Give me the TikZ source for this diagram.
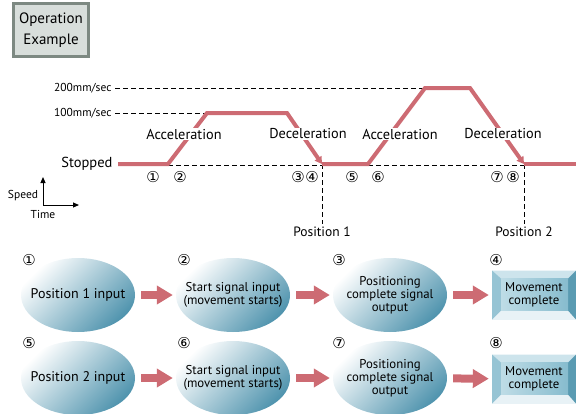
\documentclass[tikz,border=0pt]{standalone}
\usepackage{fontspec}
\setmainfont{PT Sans}
\newfontfamily\circfont{DejaVu Sans}
\usetikzlibrary{arrows.meta,shapes.geometric}

\definecolor{profred}{RGB}{205,107,115}
\definecolor{ovalteal}{RGB}{80,148,174}
\definecolor{titlegray}{RGB}{125,137,130}
\definecolor{titlefill}{RGB}{216,222,219}
\definecolor{bevtop}{RGB}{205,228,236}
\definecolor{bevleft}{RGB}{150,196,212}
\definecolor{bevright}{RGB}{90,155,178}
\definecolor{bevbottom}{RGB}{232,242,246}
\definecolor{faceleft}{RGB}{190,220,230}
\definecolor{faceright}{RGB}{135,188,206}

\tikzset{
  profile/.style={draw=profred, line width=4pt},
  guide/.style={draw=black, line width=0.8pt, dash pattern=on 5pt off 3pt},
  phase/.style={fill=white, inner sep=1pt, font=\fontsize{14.3}{16}\selectfont},
  speedlbl/.style={anchor=east, font=\fontsize{11.5}{13}\selectfont},
  stepno/.style={font=\circfont\fontsize{15}{16}\selectfont},
  ovaltext/.style={align=center, inner sep=0pt, font=\fontsize{12.8}{13}\selectfont},
  oval/.style={ellipse, minimum width=114pt, minimum height=74pt, inner sep=0pt,
    top color=white, bottom color=ovalteal, shading angle=45,
    label={[ovaltext]center:#1}},
  fatarrow/.style={draw=profred, line width=8pt, -{Triangle[length=16pt,width=18pt]},
    shorten <=6pt, shorten >=3pt},
  donebox/.style={rectangle, minimum width=84pt, minimum height=49pt, inner sep=0pt,
    fill=bevbottom, align=center, font=\fontsize{12.8}{13}\selectfont,
    path picture={
      \fill[bevtop] (path picture bounding box.north west) -- (path picture bounding box.north east)
        -- ([xshift=-8pt,yshift=-8pt]path picture bounding box.north east)
        -- ([xshift=9pt,yshift=-8pt]path picture bounding box.north west) -- cycle;
      \fill[bevleft] (path picture bounding box.north west) -- ([xshift=9pt,yshift=-8pt]path picture bounding box.north west)
        -- ([xshift=9pt,yshift=9pt]path picture bounding box.south west) -- (path picture bounding box.south west) -- cycle;
      \fill[bevright] (path picture bounding box.north east) -- ([xshift=-8pt,yshift=-8pt]path picture bounding box.north east)
        -- ([xshift=-8pt,yshift=9pt]path picture bounding box.south east) -- (path picture bounding box.south east) -- cycle;
      \shade[left color=faceleft, right color=faceright]
        ([xshift=9pt,yshift=-8pt]path picture bounding box.north west)
        rectangle ([xshift=-8pt,yshift=9pt]path picture bounding box.south east);
    }},
}

\begin{document}
\begin{tikzpicture}[x=1pt, y=-1pt]
  \useasboundingbox (0,0) rectangle (576,413);

  % Title box
  \node[draw=titlegray, line width=3pt, fill=titlefill, minimum width=75pt, minimum height=53pt,
    align=center, font=\fontsize{15}{21}\selectfont] (title) at (51,30) {Operation\\Example};

  % Speed levels
  \node[speedlbl] (v200) at (115,88) {200mm/sec};
  \node[speedlbl] (v100) at (115,113) {100mm/sec};
  \node[anchor=east, font=\fontsize{14.5}{16}\selectfont] (stop) at (116,164) {Stopped};

  % Profile corners
  \coordinate (s0) at (118,164);
  \coordinate (a1) at (168,164);
  \coordinate (t1) at (207,113);
  \coordinate (t1e) at (287,113);
  \coordinate (d1) at (322,164);
  \coordinate (a2) at (368,164);
  \coordinate (t2) at (425,88);
  \coordinate (t2e) at (470,88);
  \coordinate (d2) at (524,164);
  \coordinate (rend) at (576,164);

  % Position labels
  \node[font=\fontsize{13.5}{15}\selectfont] (pos1) at (322,232) {Position 1};
  \node[font=\fontsize{13.5}{15}\selectfont] (pos2) at (524,232) {Position 2};

  % Dashed guides
  \draw[guide] (v200.east) -- (t2);
  \draw[guide] (v100.east) -- (t1);
  \draw[guide] ([yshift=-1.5pt]a1) -- ([yshift=-1.5pt]d2);
  \draw[guide] (d1) -- (pos1.north);
  \draw[guide] (d2) -- (pos2.north);

  % Speed profile
  \draw[profile, -{Triangle[length=7pt,width=8pt]}] (s0) -- (a1) -- (t1) -- (t1e) -- (d1);
  \draw[profile, -{Triangle[length=7pt,width=8pt]}] (d1) -- (a2) -- (t2) -- (t2e) -- (d2);
  \draw[profile] (d2) -- (rend);

  % Phase labels
  \node[phase] (acc1) at (184,134) {Acceleration};
  \node[phase] (dec1) at (308,134) {Deceleration};
  \node[phase] (acc2) at (400,134) {Acceleration};
  \node[phase] (dec2) at (503,134) {Deceleration};

  % Step numbers on the time axis
  \node[stepno] (g1) at (153,177) {①};
  \node[stepno] (g2) at (180,177) {②};
  \node[stepno] (g3) at (298,177) {③};
  \node[stepno] (g4) at (312,177) {④};
  \node[stepno] (g5) at (352,177) {⑤};
  \node[stepno] (g6) at (378,177) {⑥};
  \node[stepno] (g7) at (497,177) {⑦};
  \node[stepno] (g8) at (513,177) {⑧};

  % Speed / Time axes
  \coordinate (axo) at (43,205);
  \coordinate (axv) at (43,177);
  \coordinate (axh) at (79,205);
  \draw[line width=1pt, -{Triangle[length=6pt,width=5pt]}] (axo) -- (axv);
  \draw[line width=1pt, -{Triangle[length=6pt,width=5pt]}] (axo) -- (axh);
  \node[font=\fontsize{11.5}{13}\selectfont] (spd) at (23,196) {Speed};
  \node[font=\fontsize{11.5}{13}\selectfont] (tim) at (43,214) {Time};

  % Row 1: position 1
  \node[stepno] (n1) at (29,260) {①};
  \node[stepno] (n2) at (184,260) {②};
  \node[stepno] (n3) at (339,260) {③};
  \node[stepno] (n4) at (496,260) {④};
  \node[oval={\fontsize{14}{15}\selectfont Position 1 input}] (in1) at (78,295) {};
  \node[oval={Start signal input\\(movement starts)}] (go1) at (233,295) {};
  \node[oval={Positioning\\complete signal\\output}] (ok1) at (390,295) {};
  \node[donebox] (end1) at (534,295) {Movement\\complete};
  \draw[fatarrow] (in1) -- (go1);
  \draw[fatarrow] (go1) -- (ok1);
  \draw[fatarrow] (ok1) -- (end1);

  % Row 2: position 2
  \node[stepno] (n5) at (29,343) {⑤};
  \node[stepno] (n6) at (184,343) {⑥};
  \node[stepno] (n7) at (339,343) {⑦};
  \node[stepno] (n8) at (496,343) {⑧};
  \node[oval={\fontsize{14}{15}\selectfont Position 2 input}] (in2) at (78,378) {};
  \node[oval={Start signal input\\(movement starts)}] (go2) at (233,378) {};
  \node[oval={Positioning\\complete signal\\output}] (ok2) at (390,378) {};
  \node[donebox] (end2) at (534,379) {Movement\\complete};
  \draw[fatarrow] (in2) -- (go2);
  \draw[fatarrow] (go2) -- (ok2);
  \draw[fatarrow] (ok2) -- (end2);

\end{tikzpicture}
\end{document}
